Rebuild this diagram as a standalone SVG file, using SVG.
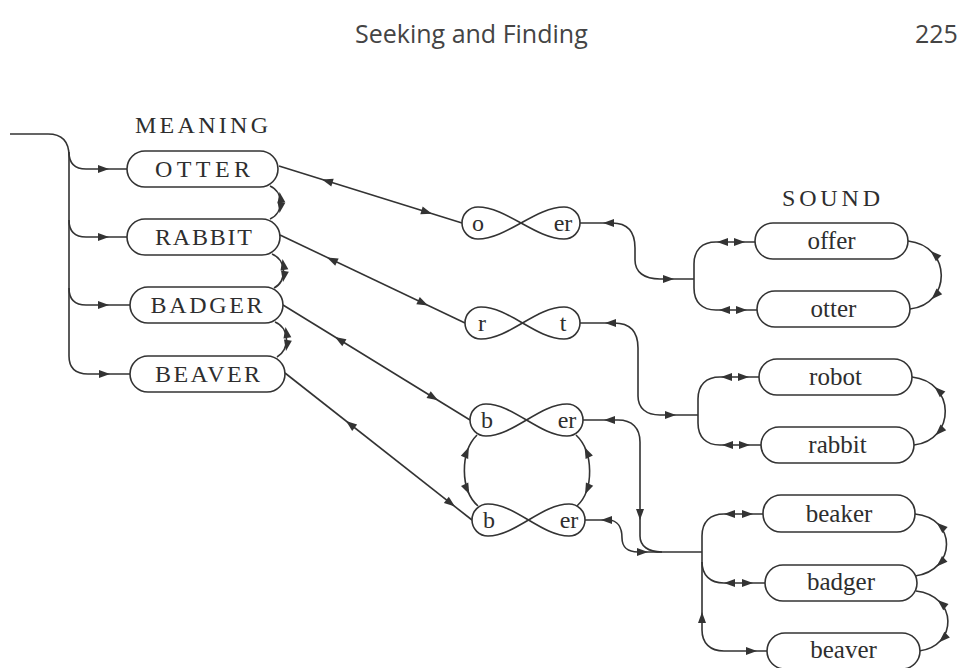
<svg xmlns="http://www.w3.org/2000/svg" xmlns:xlink="http://www.w3.org/1999/xlink" width="972" height="668" viewBox="0 0 972 668">
<style>
.ln{fill:none;stroke:#333;stroke-width:1.6}
.box{fill:#fff;stroke:#333;stroke-width:1.6}
.cap{font-family:"Liberation Serif",serif;font-size:24px;fill:#2e2e2e;text-anchor:middle}
.low{font-family:"Liberation Serif",serif;font-size:25px;fill:#2e2e2e;text-anchor:middle}
.fig{font-family:"Liberation Serif",serif;font-size:24px;fill:#2e2e2e;text-anchor:middle}
.hdr{font-family:"Open Sans","Noto Sans",sans-serif;font-size:25px;fill:#444}
.ah{fill:#333}
</style>
<defs>
<path id="ah" d="M0,0 L-11,-4 L-11,4 Z"/>
</defs>
<rect width="972" height="668" fill="#fff"/>
<text class="hdr" x="355" y="43">Seeking and Finding</text>
<text class="hdr" x="915" y="43">225</text>
<text class="cap" x="201.5" y="133" textLength="133" lengthAdjust="spacing">MEANING</text>
<text class="cap" x="831" y="206" textLength="98" lengthAdjust="spacing">SOUND</text>

<g id="connectors">
<!-- entry -->
<path class="ln" d="M10,134 H48 C62,134 69,142 69,156 V356 C69,368 75,374 88,374 H130"/>
<path class="ln" d="M69,152 C69,163 74,169 86,169 H127"/>
<path class="ln" d="M69,220 C69,231 74,237 86,237 H127"/>
<path class="ln" d="M69,288 C69,299 74,305 86,305 H130"/>
<!-- meaning adjacency arcs -->
<path class="ln" d="M270,186 C284,192 284,213 270,219"/>
<path class="ln" d="M272,254 C287,260 287,282 274,288"/>
<path class="ln" d="M275,322 C290,328 290,350 277,357"/>
<!-- diagonals -->
<path class="ln" d="M279,166 L462,223"/>
<path class="ln" d="M280,235 L465,323"/>
<path class="ln" d="M283,305 L470,420"/>
<path class="ln" d="M285,373 L472,520"/>
<!-- b/er circle -->
<path class="ln" d="M477,435 C460,452 460,490 478,506"/>
<path class="ln" d="M576,435 C594,452 594,490 577,506"/>
<!-- group 1 -->
<path class="ln" d="M580,223 H612 C628,223 635,232 635,248 V260 C635,272 644,279 660,279 H694"/>
<path class="ln" d="M755,242 H716 C702,242 694,250 694,264 V288 C694,302 702,310 716,310 H757"/>
<!-- group 2 -->
<path class="ln" d="M580,323 H614 C630,323 638,332 638,348 V396 C638,408 646,415 660,415 H698"/>
<path class="ln" d="M759,377 H720 C706,377 698,385 698,399 V423 C698,437 706,445 720,445 H761"/>
<!-- group 3 -->
<path class="ln" d="M583,420 H618 C632,420 640,428 640,442 V536 C640,546 648,552 662,552 H702"/>
<path class="ln" d="M585,520 H608 C618,520 622,528 622,538 C622,547 628,552 638,552 H662"/>
<path class="ln" d="M763,514 H724 C710,514 702,522 702,536 V630 C702,643 710,651 724,651 H767"/>
<path class="ln" d="M702,562 C702,575 710,583 724,583 H765"/>
<!-- sound adjacency arcs -->
<path class="ln" d="M908,241 C952,246 952,304 910,309"/>
<path class="ln" d="M912,377 C956,382 956,440 914,445"/>
<path class="ln" d="M915,514 C957,518 957,570 915,576"/>
<path class="ln" d="M916,591 C958,596 958,646 919,651"/>
<!-- arrowheads -->
<g class="ah">
<use xlink:href="#ah" transform="translate(109,169)"/>
<use xlink:href="#ah" transform="translate(109,237)"/>
<use xlink:href="#ah" transform="translate(109,305)"/>
<use xlink:href="#ah" transform="translate(110,374)"/>
<use xlink:href="#ah" transform="translate(279.5,192) rotate(-100)"/>
<use xlink:href="#ah" transform="translate(279.5,213) rotate(100)"/>
<use xlink:href="#ah" transform="translate(282.5,259) rotate(-100)"/>
<use xlink:href="#ah" transform="translate(283,282) rotate(100)"/>
<use xlink:href="#ah" transform="translate(285.5,327) rotate(-100)"/>
<use xlink:href="#ah" transform="translate(286,351) rotate(100)"/>
<use xlink:href="#ah" transform="translate(322,179.4) rotate(197.3)"/>
<use xlink:href="#ah" transform="translate(432,213.7) rotate(17.3)"/>
<use xlink:href="#ah" transform="translate(327,257.4) rotate(205.4)"/>
<use xlink:href="#ah" transform="translate(428,305.4) rotate(25.4)"/>
<use xlink:href="#ah" transform="translate(335,337) rotate(211.6)"/>
<use xlink:href="#ah" transform="translate(438,400.3) rotate(31.6)"/>
<use xlink:href="#ah" transform="translate(346,421) rotate(218)"/>
<use xlink:href="#ah" transform="translate(455,506.6) rotate(38)"/>
<use xlink:href="#ah" transform="translate(468.8,447.3) rotate(-67)"/>
<use xlink:href="#ah" transform="translate(469.3,494.2) rotate(65)"/>
<use xlink:href="#ah" transform="translate(584.6,447.3) rotate(245)"/>
<use xlink:href="#ah" transform="translate(585.1,494.2) rotate(114)"/>
<use xlink:href="#ah" transform="translate(603,223) rotate(180)"/>
<use xlink:href="#ah" transform="translate(674,279)"/>
<use xlink:href="#ah" transform="translate(717,242) rotate(180)"/>
<use xlink:href="#ah" transform="translate(745,242)"/>
<use xlink:href="#ah" transform="translate(719,310) rotate(180)"/>
<use xlink:href="#ah" transform="translate(747,310)"/>
<use xlink:href="#ah" transform="translate(605,323) rotate(180)"/>
<use xlink:href="#ah" transform="translate(676,415)"/>
<use xlink:href="#ah" transform="translate(721,377) rotate(180)"/>
<use xlink:href="#ah" transform="translate(749,377)"/>
<use xlink:href="#ah" transform="translate(722,445) rotate(180)"/>
<use xlink:href="#ah" transform="translate(750,445)"/>
<use xlink:href="#ah" transform="translate(604,420) rotate(180)"/>
<use xlink:href="#ah" transform="translate(640,520) rotate(90)"/>
<use xlink:href="#ah" transform="translate(601,520) rotate(180)"/>
<use xlink:href="#ah" transform="translate(648,552)"/>
<use xlink:href="#ah" transform="translate(724,514) rotate(180)"/>
<use xlink:href="#ah" transform="translate(753,514)"/>
<use xlink:href="#ah" transform="translate(724,583) rotate(180)"/>
<use xlink:href="#ah" transform="translate(753,583)"/>
<use xlink:href="#ah" transform="translate(757,651)"/>
<use xlink:href="#ah" transform="translate(702,612) rotate(-90)"/>
<use xlink:href="#ah" transform="translate(930.6,250.9) rotate(223)"/>
<use xlink:href="#ah" transform="translate(931.6,299.2) rotate(135)"/>
<use xlink:href="#ah" transform="translate(934.6,386.9) rotate(223)"/>
<use xlink:href="#ah" transform="translate(935.6,435.2) rotate(135)"/>
<use xlink:href="#ah" transform="translate(936.7,522.7) rotate(221)"/>
<use xlink:href="#ah" transform="translate(936.7,566.4) rotate(137)"/>
<use xlink:href="#ah" transform="translate(937.6,599.9) rotate(221)"/>
<use xlink:href="#ah" transform="translate(939.1,642.2) rotate(137)"/>
</g>
</g>

<g id="m-otter"><rect class="box" x="127" y="151" width="151" height="36" rx="18"/><text class="cap" x="202.5" y="177" textLength="95" lengthAdjust="spacing">OTTER</text></g>
<g id="m-rabbit"><rect class="box" x="127" y="219" width="153" height="36" rx="18"/><text class="cap" x="203.5" y="245" textLength="97" lengthAdjust="spacing">RABBIT</text></g>
<g id="m-badger"><rect class="box" x="130" y="287" width="153" height="36" rx="18"/><text class="cap" x="206.5" y="313" textLength="112" lengthAdjust="spacing">BADGER</text></g>
<g id="m-beaver"><rect class="box" x="130" y="356" width="155" height="36" rx="18"/><text class="cap" x="207.5" y="382" textLength="105" lengthAdjust="spacing">BEAVER</text></g>

<g id="f-o-er"><path class="box" d="M478,207 C506,207 536,239 564,239 A16,16 0 0 0 564,207 C536,207 506,239 478,239 A16,16 0 0 1 478,207 Z"/><text class="fig" x="478" y="231">o</text><text class="fig" x="563" y="231">er</text></g>
<g id="f-r-t"><path class="box" d="M481,307 C509,307 536,339 564,339 A16,16 0 0 0 564,307 C536,307 509,339 481,339 A16,16 0 0 1 481,307 Z"/><text class="fig" x="482" y="331">r</text><text class="fig" x="563" y="331">t</text></g>
<g id="f-b-er-1"><path class="box" d="M486,404 C513,404 540,436 567,436 A16,16 0 0 0 567,404 C540,404 513,436 486,436 A16,16 0 0 1 486,404 Z"/><text class="fig" x="487" y="428">b</text><text class="fig" x="567" y="428">er</text></g>
<g id="f-b-er-2"><path class="box" d="M488,504 C515,504 542,536 569,536 A16,16 0 0 0 569,504 C542,504 515,536 488,536 A16,16 0 0 1 488,504 Z"/><text class="fig" x="489" y="528">b</text><text class="fig" x="569" y="528">er</text></g>

<g id="s-offer"><rect class="box" x="755" y="223" width="153" height="36" rx="18"/><text class="low" x="831.5" y="249">offer</text></g>
<g id="s-otter"><rect class="box" x="757" y="291" width="153" height="36" rx="18"/><text class="low" x="833.5" y="317">otter</text></g>
<g id="s-robot"><rect class="box" x="759" y="359" width="153" height="36" rx="18"/><text class="low" x="835.5" y="385">robot</text></g>
<g id="s-rabbit"><rect class="box" x="761" y="427" width="153" height="36" rx="18"/><text class="low" x="837.5" y="453">rabbit</text></g>
<g id="s-beaker"><rect class="box" x="763" y="495" width="152" height="37" rx="18"/><text class="low" x="839" y="522">beaker</text></g>
<g id="s-badger"><rect class="box" x="765" y="565" width="152" height="36" rx="18"/><text class="low" x="841" y="590">badger</text></g>
<g id="s-beaver"><rect class="box" x="767" y="633" width="153" height="36" rx="18"/><text class="low" x="843.5" y="658">beaver</text></g>
</svg>
